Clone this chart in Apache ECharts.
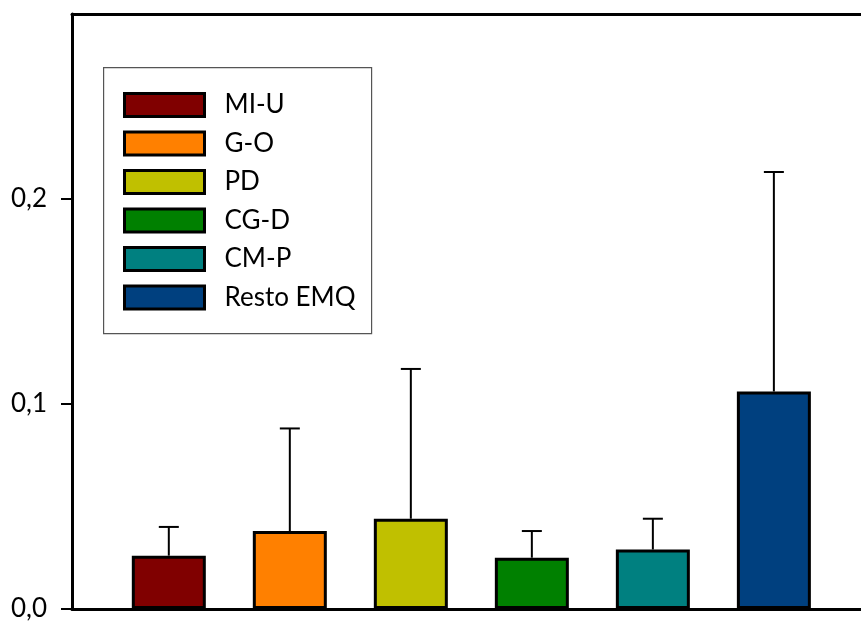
<!DOCTYPE html>
<html>
<head>
<meta charset="utf-8">
<script src="https://cdn.jsdelivr.net/npm/echarts@6/dist/echarts.min.js"></script>
<style>
  html, body { margin: 0; padding: 0; background: #fff; }
  #chart { width: 861px; height: 623px; }
</style>
</head>
<body>
<div id="chart"></div>
<script>
// Group names, mean values and upper error (SD) per group
const categories = ['MI-U', 'G-O', 'PD', 'CG-D', 'CM-P', 'Resto EMQ'];
const means = [0.026, 0.038, 0.044, 0.025, 0.029, 0.106];
const errors = [0.014, 0.050, 0.073, 0.013, 0.015, 0.107];
const colors = ['#800000', '#FF8000', '#C0C000', '#008000', '#008080', '#00407F'];
const yTicks = [0, 0.1, 0.2];

const FONT = 'Lato';

const chart = echarts.init(document.getElementById('chart'), null, { renderer: 'canvas' });

// One bar series per group so each gets its own legend entry; bars overlap in one slot
const barSeries = categories.map((name, i) => ({
  name: name,
  type: 'bar',
  xAxisIndex: 0,
  yAxisIndex: 0,
  barWidth: 74,
  barGap: '-100%',
  itemStyle: { color: colors[i], borderColor: '#000', borderWidth: 3 },
  data: [[i + 1, means[i]]],
  z: 2
}));

// Upper error bars with caps
const errorSeries = {
  type: 'custom',
  name: 'error',
  xAxisIndex: 0,
  yAxisIndex: 0,
  data: categories.map((c, i) => [i + 1, means[i], means[i] + errors[i]]),
  renderItem: function (params, api) {
    const base = api.coord([api.value(0), api.value(1)]);
    const top = api.coord([api.value(0), api.value(2)]);
    const half = 10;
    return {
      type: 'group',
      children: [
        { type: 'line', shape: { x1: base[0], y1: base[1], x2: top[0], y2: top[1] },
          style: { stroke: '#000', lineWidth: 2 } },
        { type: 'line', shape: { x1: top[0] - half, y1: top[1], x2: top[0] + half, y2: top[1] },
          style: { stroke: '#000', lineWidth: 2 } }
      ]
    };
  },
  z: 1,
  silent: true
};

const option = {
  backgroundColor: '#fff',
  animation: false,
  textStyle: { fontFamily: FONT },
  grid: { left: 72, right: 0, top: 14, bottom: 14, containLabel: false },
  legend: {
    orient: 'vertical',
    left: 123,
    top: 92,
    icon: 'rect',
    itemWidth: 80,
    itemHeight: 23,
    itemGap: 12.5,
    padding: 0,
    data: categories,
    itemStyle: { borderColor: '#000', borderWidth: 3 },
    textStyle: { fontFamily: FONT, fontSize: 26, color: '#000', padding: [0, 0, 0, 15] },
    selectedMode: false
  },
  graphic: [{
    type: 'rect',
    left: 103,
    top: 67,
    shape: { width: 268, height: 266 },
    style: { fill: 'transparent', stroke: '#555', lineWidth: 1.2 },
    z: -1
  }],
  xAxis: [{
    type: 'value',
    position: 'bottom',
    min: 0.2,
    max: 6.72,
    axisLine: { show: true, onZero: false, lineStyle: { color: '#000', width: 3 } },
    axisTick: { show: false },
    axisLabel: { show: false },
    splitLine: { show: false }
  }, {
    type: 'value',
    position: 'top',
    min: 0.2,
    max: 6.72,
    axisLine: { show: true, onZero: false, lineStyle: { color: '#000', width: 3 } },
    axisTick: { show: false },
    axisLabel: { show: false },
    splitLine: { show: false }
  }],
  yAxis: {
    type: 'value',
    min: 0,
    max: 0.29,
    axisLine: { show: true, onZero: false, lineStyle: { color: '#000', width: 3 } },
    axisTick: { show: true, inside: false, length: 11, customValues: yTicks,
                lineStyle: { color: '#000', width: 2 } },
    axisLabel: {
      customValues: yTicks,
      margin: 25,
      fontFamily: FONT,
      fontSize: 26,
      color: '#000',
      formatter: v => v.toFixed(1).replace('.', ',')
    },
    splitLine: { show: false }
  },
  series: [...barSeries, errorSeries]
};

chart.setOption(option);
</script>
</body>
</html>
